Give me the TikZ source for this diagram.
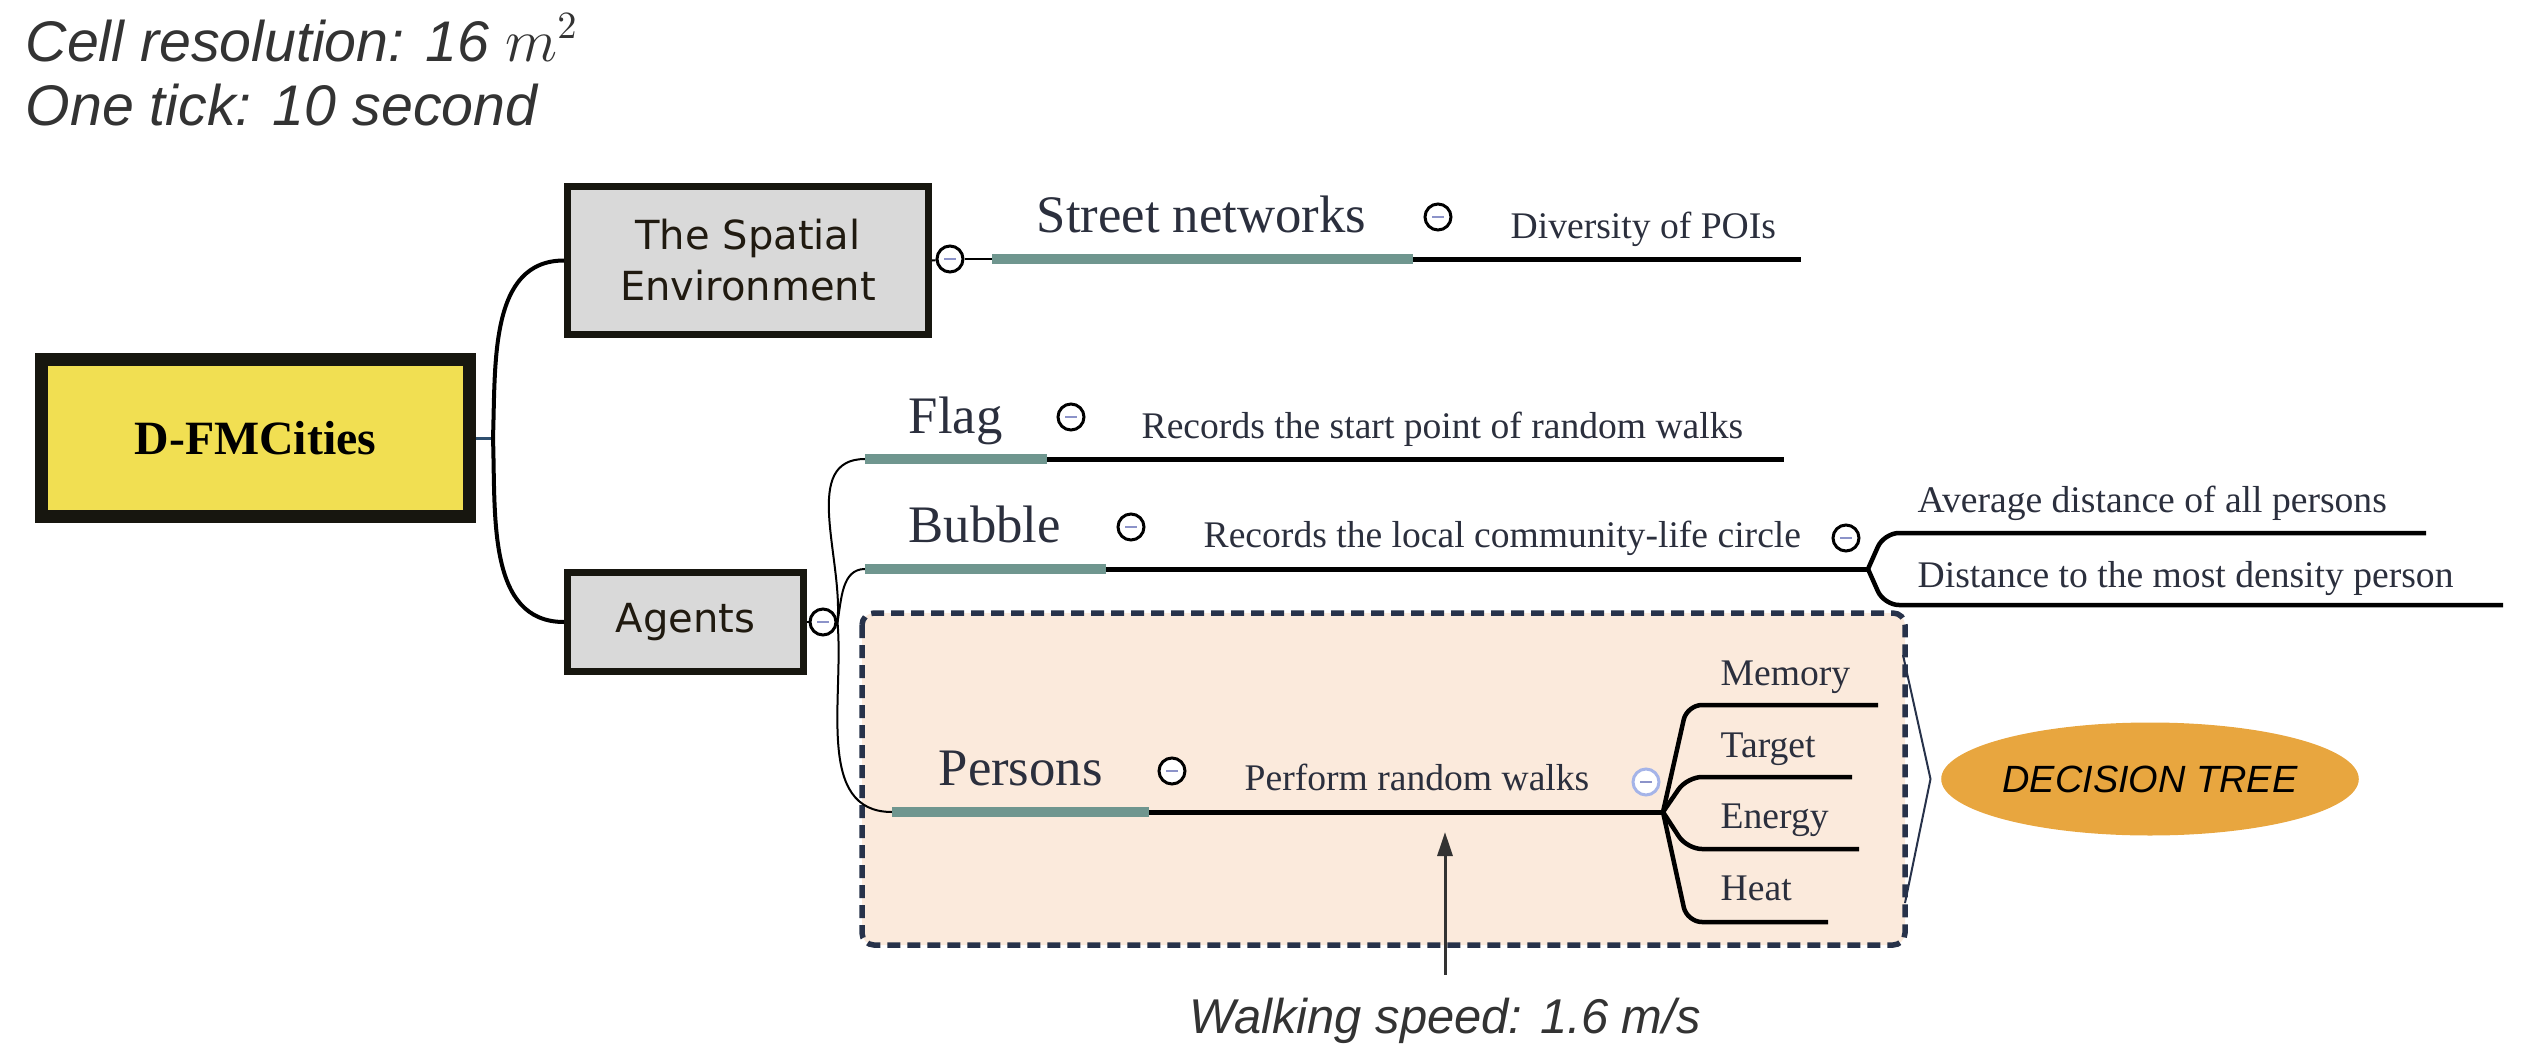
\documentclass[tikz,border=0pt]{standalone}
\usepackage{fontspec}
\setmainfont{Liberation Serif}
\newfontfamily\notefont{Liberation Sans}
\newfontfamily\boxfont{DejaVu Sans}
\usetikzlibrary{arrows.meta,shapes.geometric}

\definecolor{rootyellow}{HTML}{F1DF52}
\definecolor{boxgray}{HTML}{D9D9D9}
\definecolor{boxline}{HTML}{17160F}
\definecolor{boxtext}{HTML}{201A10}
\definecolor{teal}{HTML}{6F968F}
\definecolor{inktext}{HTML}{2B2F3D}
\definecolor{peach}{HTML}{FBEADC}
\definecolor{navy}{HTML}{27324A}
\definecolor{treeorange}{HTML}{E8A63F}
\definecolor{stubblue}{HTML}{2F4F6F}
\definecolor{foldmark}{HTML}{8C93C9}
\definecolor{foldlight}{HTML}{A5B4E8}
\definecolor{notegray}{HTML}{333333}

\tikzset{
  note/.style={inner sep=0, text=notegray, font=\notefont\itshape},
  root/.style={draw=boxline, fill=rootyellow, line width=1.3mm, inner sep=0,
    minimum width=42.8mm, minimum height=15.7mm, font=\bfseries\fontsize{13.6}{16}\selectfont},
  topic/.style={draw=boxline, fill=boxgray, line width=0.7mm, inner sep=0, align=center,
    text=boxtext, font=\boxfont\fontsize{11.4}{14.5}\selectfont},
  head/.style={anchor=base west, inner sep=0, text=inktext, font=\fontsize{15}{18}\selectfont},
  leaf/.style={anchor=base west, inner sep=0, text=inktext, font=\fontsize{10.7}{13}\selectfont},
  fold/.style={circle, draw, fill=white, line width=0.3mm, minimum size=2.6mm, inner sep=0,
    path picture={\draw[foldmark, line width=0.25mm]
      ([xshift=-0.6mm]path picture bounding box.center) -- ([xshift=0.6mm]path picture bounding box.center);}},
  lightfold/.style={fold, draw=foldlight},
  stub/.style={stubblue, line width=0.3mm},
  branch/.style={line width=0.4mm},
  twig/.style={line width=0.2mm},
  bar/.style={teal, line width=1mm},
  stem/.style={line width=0.5mm},
  sub/.style={line width=0.45mm, rounded corners=1.5mm},
  decision/.style={ellipse, fill=treeorange, inner sep=0, minimum width=36.9mm, minimum height=11.3mm,
    font=\notefont\itshape\fontsize{10.8}{13}\selectfont},
  pointer/.style={notegray, line width=0.3mm, -{Triangle[length=2.4mm,width=1.5mm]}}
}

\begin{document}
\begin{tikzpicture}[x=0.1mm,y=-0.1mm]
\useasboundingbox (0,0) rectangle (2522,1058);

% notes on the scale
\node[note, anchor=base west, font=\notefont\itshape\fontsize{16.3}{19}\selectfont] (cellres) at (25,61) {Cell resolution: 16 $m^2$};
\node[note, anchor=base west, font=\notefont\itshape\fontsize{16.3}{19}\selectfont] (onetick) at (25,125) {One tick: 10 second};

% central topic and main branches
\node[root] (dfm) at (255.5,438) {D-FMCities};
\node[topic, minimum width=36.1mm, minimum height=14.8mm] (spatial) at (748,260.5) {The Spatial\\Environment};
\node[topic, minimum width=23.6mm, minimum height=9.9mm] (agents) at (685.5,622) {Agents};

\coordinate (split) at (493,438);
\draw[stub] (dfm.east) -- (split);
\draw[branch] (split) to[out=88,in=180] (spatial.west);
\draw[branch] (split) to[out=-88,in=180] (agents.west);

% spatial environment
\node[fold] (spfold) at (950,259) {};
\coordinate (streetS) at (992,259);
\coordinate (streetM) at (1413,259);
\coordinate (streetE) at (1801,259);
\draw[twig] (spatial.east) -- (spfold);
\draw[twig] (spfold) -- (streetS);
\draw[bar] (streetS) -- (streetM);
\draw[stem] (streetM) -- (streetE);
\node[head] (street) at (1036,232) {Street networks};
\node[fold] (streetfold) at (1438,217) {};
\node[leaf] (poi) at (1510,238) {Diversity of POIs};

% group of persons
\draw[navy, fill=peach, line width=0.55mm, dash pattern=on 1.3mm off 0.7mm, rounded corners=1.2mm]
  (862,613) rectangle (1905,945);

% agents
\node[fold] (agfold) at (823,622) {};
\draw[twig] (agents.east) -- (agfold);

\coordinate (flagS) at (865,459);
\coordinate (flagM) at (1047,459);
\coordinate (flagE) at (1784,459);
\coordinate (bubbleS) at (865,569);
\coordinate (bubbleM) at (1106,569);
\coordinate (bubbleE) at (1868,569);
\coordinate (personS) at (892,812);
\coordinate (personM) at (1149,812);
\coordinate (personE) at (1663,812);

\draw[twig] (agfold.east) to[out=85,in=180] (flagS);
\draw[twig] (agfold.east) to[out=80,in=180] (bubbleS);
\draw[twig] (agfold.east) to[out=-85,in=180] (personS);

% flag
\draw[bar] (flagS) -- (flagM);
\draw[stem] (flagM) -- (flagE);
\node[head] (flag) at (908,433) {Flag};
\node[fold] (flagfold) at (1071,417) {};
\node[leaf] (flagleaf) at (1141,438) {Records the start point of random walks};

% bubble
\draw[bar] (bubbleS) -- (bubbleM);
\draw[stem] (bubbleM) -- (bubbleE);
\node[head] (bubble) at (908,542) {Bubble};
\node[fold] (bubblefold) at (1131,527) {};
\node[leaf] (bubbleleaf) at (1203,547) {Records the local community-life circle};
\node[fold] (circlefold) at (1846,538) {};
\coordinate (avgS) at (1884,533);
\coordinate (avgE) at (2426,533);
\coordinate (distS) at (1884,605);
\coordinate (distE) at (2503,605);
\draw[sub] (bubbleE) -- (avgS) -- (avgE);
\draw[sub] (bubbleE) -- (distS) -- (distE);
\node[leaf] (avg) at (1917,512) {Average distance of all persons};
\node[leaf] (dist) at (1917,587) {Distance to the most density person};

% persons
\draw[bar] (personS) -- (personM);
\draw[stem] (personM) -- (personE);
\node[head] (persons) at (938,785) {Persons};
\node[fold] (personfold) at (1172,771) {};
\node[leaf] (walks) at (1244,790) {Perform random walks};
\node[lightfold] (walkfold) at (1646,782) {};

\coordinate (memS) at (1687,705);
\coordinate (memE) at (1878,705);
\coordinate (tarS) at (1687,777);
\coordinate (tarE) at (1852,777);
\coordinate (eneS) at (1687,849);
\coordinate (eneE) at (1859,849);
\coordinate (heaS) at (1687,922);
\coordinate (heaE) at (1828,922);
\draw[sub] (personE) -- (memS) -- (memE);
\draw[sub] (personE) -- (tarS) -- (tarE);
\draw[sub] (personE) -- (eneS) -- (eneE);
\draw[sub] (personE) -- (heaS) -- (heaE);
\node[leaf] (memory) at (1720,685) {Memory};
\node[leaf] (target) at (1720,757) {Target};
\node[leaf] (energy) at (1720,828) {Energy};
\node[leaf] (heat) at (1720,900) {Heat};

% decision tree
\node[decision] (dtree) at (2150,779) {DECISION TREE};
\coordinate (braceT) at (1903,655);
\coordinate (braceB) at (1905,903);
\draw[navy, line width=0.2mm] (braceT) -- ([xshift=-1mm]dtree.west) -- (braceB);

% walking speed
\node[note, anchor=base, inner sep=2.2mm, font=\notefont\itshape\fontsize{13.9}{17}\selectfont] (speed) at (1445,1033) {Walking speed: 1.6 m/s};
\coordinate (walkTip) at (1445,832);
\draw[pointer] (speed.north) -- (walkTip);
\end{tikzpicture}
\end{document}
